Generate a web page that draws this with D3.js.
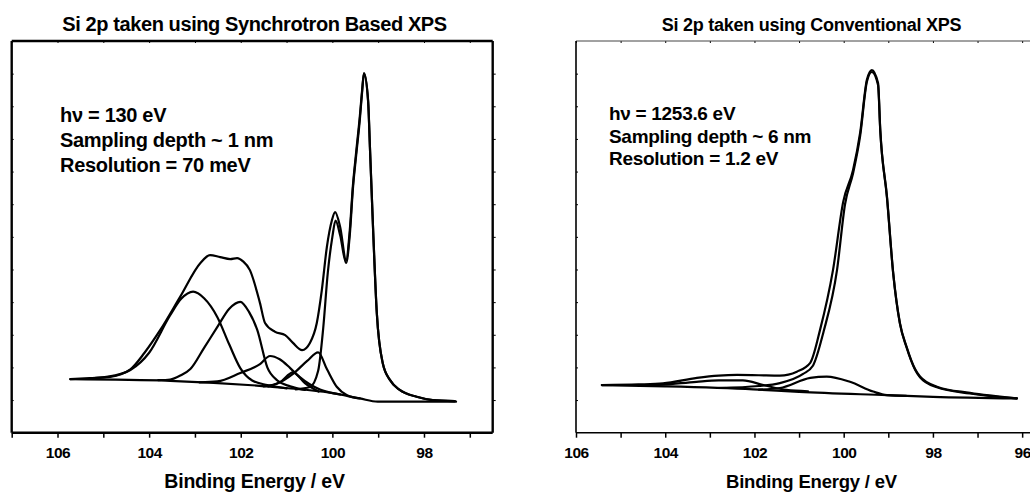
<!DOCTYPE html>
<html>
<head>
<meta charset="utf-8">
<script src="https://cdn.jsdelivr.net/npm/d3@7"></script>
<style>
  body { margin: 0; background: #fff; }
  svg { display: block; font-family: "Liberation Sans", Arial, sans-serif; font-weight: bold; }
  .axis path, .axis line { stroke: #000; }
  .axis text { font-family: "Liberation Sans", Arial, sans-serif; font-weight: bold; fill: #000; }
</style>
</head>
<body>
<div id="chart"></div>
<script>
// Si 2p, synchrotron (left panel) -- [binding energy eV, intensity a.u.]
var synEnvelope = [[105.72,1.64],[105.3,1.67],[104.85,1.71],[104.6,1.8],[104.41,1.94],[104.1,2.45],[103.76,3.14],[103.32,4.17],[102.88,5.2],[102.67,5.44],[102.45,5.38],[102.23,5.32],[102.08,5.35],[101.95,5.25],[101.8,4.98],[101.58,3.97],[101.47,3.36],[101.25,3.09],[101.03,2.99],[100.86,2.75],[100.66,2.53],[100.49,2.75],[100.34,3.36],[100.23,4.37],[100.12,5.69],[100.01,6.51],[99.94,6.76],[99.83,6.3],[99.7,5.29],[99.62,6.2],[99.55,7.6],[99.48,8.6],[99.4,9.7],[99.35,10.5],[99.31,11.02],[99.22,10.19],[99.18,8.75],[99.11,6.2],[99.03,3.67],[98.9,2.13],[98.74,1.61],[98.53,1.31],[98.16,1.1],[97.81,1.0],[97.33,0.97]]
var synBackground = [[105.72,1.64],[103.54,1.59],[101.36,1.41],[99.99,1.21],[99.4,1.05],[99.01,0.95],[97.3,0.95]]
var synComp1 = [[105.3,1.66],[104.8,1.74],[104.41,1.92],[104.0,2.45],[103.54,3.6],[103.3,4.1],[103.04,4.32],[102.8,4.12],[102.51,3.54],[102.25,2.7],[102.01,1.98],[101.75,1.6],[101.42,1.46],[101.0,1.36]]
var synComp2 = [[103.8,1.61],[103.54,1.63],[103.32,1.75],[103.1,1.95],[102.8,2.6],[102.51,3.24],[102.25,3.8],[102.01,4.01],[101.82,3.7],[101.64,3.15],[101.42,2.0],[101.2,1.6],[100.92,1.42],[100.6,1.31]]
var synComp3 = [[102.9,1.54],[102.51,1.57],[102.01,1.83],[101.58,2.1],[101.36,2.35],[101.15,2.25],[100.92,1.98],[100.71,1.7],[100.27,1.32],[99.83,1.17]]
var synComp4 = [[101.5,1.42],[101.14,1.55],[100.86,1.85],[100.6,1.52],[100.3,1.26]]
var synComp5 = [[101.4,1.42],[101.21,1.5],[100.86,1.8],[100.55,2.2],[100.31,2.46],[100.12,1.95],[99.9,1.4],[99.68,1.15],[99.4,1.05]]
var synSi0 = [[100.8,1.33],[100.49,1.4],[100.31,1.9],[100.2,3.2],[100.1,4.9],[100.0,6.0],[99.93,6.5],[99.83,6.05],[99.7,5.2],[99.62,6.05],[99.55,7.5],[99.48,8.5],[99.4,9.6],[99.35,10.45],[99.31,11.0],[99.22,10.15],[99.18,8.75],[99.11,6.2],[99.03,3.67],[98.9,2.13],[98.74,1.61],[98.53,1.31],[98.16,1.1],[97.81,1.0],[97.33,0.97]]

// Si 2p, conventional Al Ka (right panel)
var convEnvelope = [[105.42,1.46],[104.6,1.48],[104.05,1.51],[103.29,1.68],[102.8,1.75],[102.39,1.77],[101.9,1.76],[101.43,1.75],[101.05,1.87],[100.75,2.14],[100.53,3.15],[100.24,4.98],[100.01,7.08],[99.79,8.05],[99.63,9.2],[99.48,10.81],[99.37,11.11],[99.23,10.71],[99.18,9.27],[99.03,7.23],[98.89,4.89],[98.74,3.36],[98.59,2.63],[98.4,1.95],[98.29,1.72],[97.91,1.41],[97.17,1.22],[96.12,1.05]]
var convSi0 = [[102.8,1.37],[101.9,1.43],[101.43,1.52],[100.91,1.8],[100.69,2.05],[100.45,3.1],[100.15,4.98],[99.97,7.0],[99.79,7.95],[99.63,9.1],[99.48,10.75],[99.37,11.05],[99.23,10.65],[99.18,9.25],[99.03,7.2],[98.89,4.87],[98.74,3.34],[98.59,2.61],[98.4,1.93],[98.29,1.7],[97.91,1.39],[97.17,1.2],[96.12,1.05]]
var convComp1 = [[104.6,1.44],[104.05,1.47],[103.3,1.56],[102.8,1.6],[102.26,1.6],[101.8,1.46],[101.28,1.31],[100.8,1.27]]
var convComp2 = [[101.9,1.32],[101.43,1.37],[100.75,1.68],[100.38,1.72],[99.86,1.56],[99.34,1.26],[99.03,1.15],[98.6,1.13]]
var convBackground = [[105.42,1.46],[104.0,1.42],[102.03,1.33],[101.0,1.25],[99.03,1.15],[98.0,1.1],[96.12,1.05]]

// ticks
var synTicks = [107,106,105,104,103,102,101,100,99,98,97]
var synLabels = [106,104,102,100,98]
var convTicks = [106,105,104,103,102,101,100,99,98,97,96]
var convLabels = [106,104,102,100,98,96]
var yTicks = [1,2,3,4,5,6,7,8,9,10,11]

var svg = d3.select("#chart").append("svg")
  .attr("width", 1030)
  .attr("height", 493)

function drawPanel(p) {
  var width = p.width, height = 391.7

  var g = svg.append("g")
    .attr("transform", "translate(" + p.left + ",41)")

  var x = d3.scaleLinear().domain(p.xDomain).range([0, width])
  var y = d3.scaleLinear().domain([0, 12]).range([height, 0])

  var line = d3.line()
    .x(d => x(d[0]))
    .y(d => y(d[1]))
    .curve(d3.curveMonotoneX)

  // bottom axis
  g.append("g")
    .attr("class", "axis")
    .attr("transform", "translate(0," + height + ")")
    .call(d3.axisBottom(x).tickValues(p.ticks).tickSize(5).tickSizeOuter(0).tickPadding(9)
      .tickFormat(d => p.labels.includes(d) ? d : ""))
    .call(a => a.select(".domain").remove())
    .call(a => a.selectAll("line").attr("stroke-width", 1.5))
    .call(a => a.selectAll("text").attr("font-size", 15.5).attr("letter-spacing", -0.5))

  // top ticks
  g.append("g")
    .attr("class", "axis")
    .call(d3.axisBottom(x).tickValues(p.ticks).tickSize(2).tickSizeOuter(0).tickFormat(""))
    .call(a => a.select(".domain").remove())

  // left ticks, pointing in
  g.append("g")
    .attr("class", "axis")
    .call(d3.axisRight(y).tickValues(yTicks).tickSize(2).tickSizeOuter(0).tickFormat(""))
    .call(a => a.select(".domain").remove())

  // right ticks, pointing out
  g.append("g")
    .attr("class", "axis")
    .attr("transform", "translate(" + width + ",0)")
    .call(d3.axisRight(y).tickValues(yTicks).tickSize(3).tickSizeOuter(0).tickFormat(""))
    .call(a => a.select(".domain").remove())

  // frame
  g.append("line").attr("x1", 0).attr("x2", width).attr("y1", 0).attr("y2", 0)
    .attr("stroke", p.topColor).attr("stroke-width", p.topWidth)
  g.append("line").attr("x1", width).attr("x2", width).attr("y1", 0).attr("y2", height)
    .attr("stroke", "#000").attr("stroke-width", p.frameWidth)
  g.append("line").attr("x1", 0).attr("x2", 0).attr("y1", 0).attr("y2", height)
    .attr("stroke", "#000").attr("stroke-width", p.frameWidth)
  g.append("line").attr("x1", 0).attr("x2", width).attr("y1", height).attr("y2", height)
    .attr("stroke", "#000").attr("stroke-width", p.frameWidth)

  p.curves.forEach(c => {
    g.append("path")
      .datum(c)
      .attr("fill", "none")
      .attr("stroke", "#000")
      .attr("stroke-width", 2.2)
      .attr("stroke-linejoin", "round")
      .attr("stroke-linecap", "round")
      .attr("d", line)
  })

  // annotation
  p.notes.forEach((t, i) => {
    svg.append("text")
      .attr("x", p.noteX)
      .attr("y", p.noteY + i * p.noteStep)
      .attr("font-size", p.noteSize)
      .attr("letter-spacing", -0.3)
      .text(t)
  })

  svg.append("text")
    .attr("x", p.titleX).attr("y", 31)
    .attr("text-anchor", "middle")
    .attr("font-size", p.titleSize)
    .attr("letter-spacing", p.titleSpacing)
    .text(p.title)

  svg.append("text")
    .attr("x", p.titleX).attr("y", 488)
    .attr("text-anchor", "middle")
    .attr("font-size", p.axisSize)
    .attr("letter-spacing", -0.2)
    .text("Binding Energy / eV")
}

drawPanel({
  left: 11.7, width: 481, xDomain: [107, 96.5],
  ticks: synTicks, labels: synLabels,
  frameWidth: 2.4, topColor: "#000", topWidth: 2.4,
  curves: [synBackground, synComp1, synComp2, synComp3, synComp4, synComp5, synSi0, synEnvelope],
  notes: ["h\u03bd = 130 eV", "Sampling depth ~ 1 nm", "Resolution = 70 meV"],
  noteX: 60, noteY: 121.5, noteStep: 25, noteSize: 20,
  title: "Si 2p taken using Synchrotron Based XPS", titleX: 254.5, titleSize: 20, titleSpacing: -0.4,
  axisSize: 19.5
})

drawPanel({
  left: 576, width: 464, xDomain: [106, 95.6],
  ticks: convTicks, labels: convLabels,
  frameWidth: 1.6, topColor: "#444", topWidth: 1,
  curves: [convBackground, convComp1, convComp2, convSi0, convEnvelope],
  notes: ["h\u03bd = 1253.6 eV", "Sampling depth ~ 6 nm", "Resolution = 1.2 eV"],
  noteX: 609, noteY: 120, noteStep: 22.5, noteSize: 19,
  title: "Si 2p taken using Conventional XPS", titleX: 811.5, titleSize: 18, titleSpacing: -0.25,
  axisSize: 18.5
})
</script>
</body>
</html>
